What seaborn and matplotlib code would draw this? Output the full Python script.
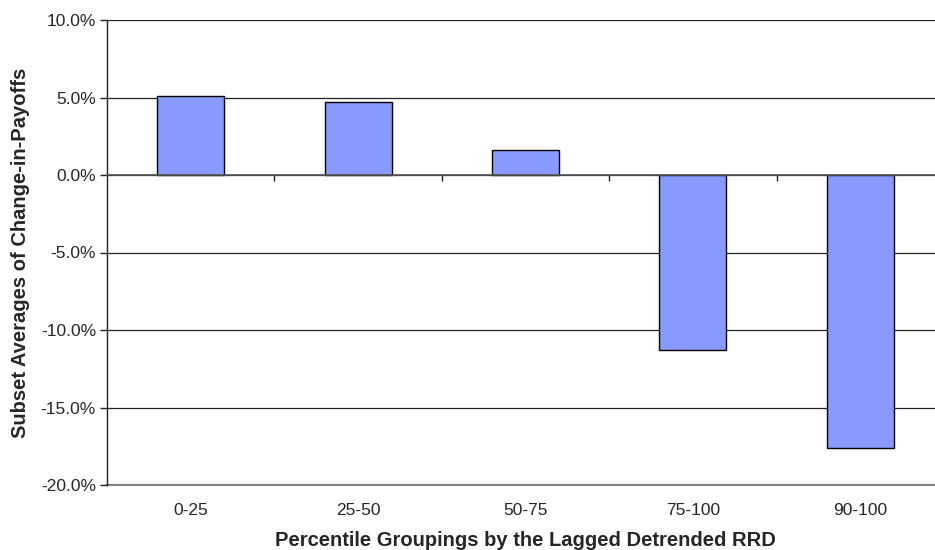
import numpy as np
import pandas as pd
import matplotlib
matplotlib.use("Agg")
import matplotlib.pyplot as plt
from matplotlib.ticker import FuncFormatter, FixedLocator
import seaborn as sns

# data
groups = ['0-25', '25-50', '50-75', '75-100', '90-100']
avg_change = [5.1, 4.7, 1.6, -11.3, -17.6]   # percent

df = pd.DataFrame({'group': groups, 'value': avg_change})

sns.set_style('white')
plt.rcParams['font.family'] = ['Liberation Sans', 'DejaVu Sans']

fig = plt.figure(figsize=(9.35, 5.5), dpi=100)
ax = fig.add_axes([107/935, 1 - 485/550, 837/935, 465/550])

sns.barplot(data=df, x='group', y='value', color='#8899FF', saturation=1,
            width=0.4, edgecolor='black', linewidth=1, ax=ax)

ax.set_xlim(-0.5, len(groups) - 0.5)
ax.set_ylim(-20, 10)
ax.set_yticks(np.arange(-20, 10.1, 5))
ax.yaxis.set_major_formatter(FuncFormatter(lambda v, p: f'{v:.1f}%'))
ax.yaxis.grid(True, color='#222222', linewidth=0.9)
ax.set_axisbelow(True)
ax.tick_params(axis='y', which='major', direction='out', length=5, width=1,
               color='#222222', labelsize=12.5, left=True, pad=3)

for s in ['top', 'right']:
    ax.spines[s].set_visible(False)
ax.spines['left'].set_color('#222222')
ax.spines['left'].set_linewidth(1)

# category axis crosses at zero, with ticks between categories
ax.spines['bottom'].set_position(('data', 0))
ax.spines['bottom'].set_color('#555555')
ax.spines['bottom'].set_linewidth(1.2)
ax.xaxis.set_minor_locator(FixedLocator(np.arange(0.5, len(groups) - 1, 1)))
ax.tick_params(axis='x', which='minor', direction='out', length=4, width=1,
               color='#222222', bottom=True)
ax.tick_params(axis='x', which='major', length=0, labelbottom=False)
ax.set_xlabel('')
ax.set_ylabel('Subset Averages of Change-in-Payoffs', fontsize=14.5,
              fontweight='bold', labelpad=8)

sec = ax.secondary_xaxis(0.0)
sec.set_xticks(range(len(groups)))
sec.set_xticklabels(groups)
sec.tick_params(length=0, labelsize=12.5, pad=13)
sec.spines['bottom'].set_color('#888888')
sec.spines['bottom'].set_linewidth(1.5)
sec.set_xlabel('Percentile Groupings by the Lagged Detrended RRD', fontsize=14.5,
               fontweight='bold', labelpad=9)

fig.savefig('out.png', dpi=100)
